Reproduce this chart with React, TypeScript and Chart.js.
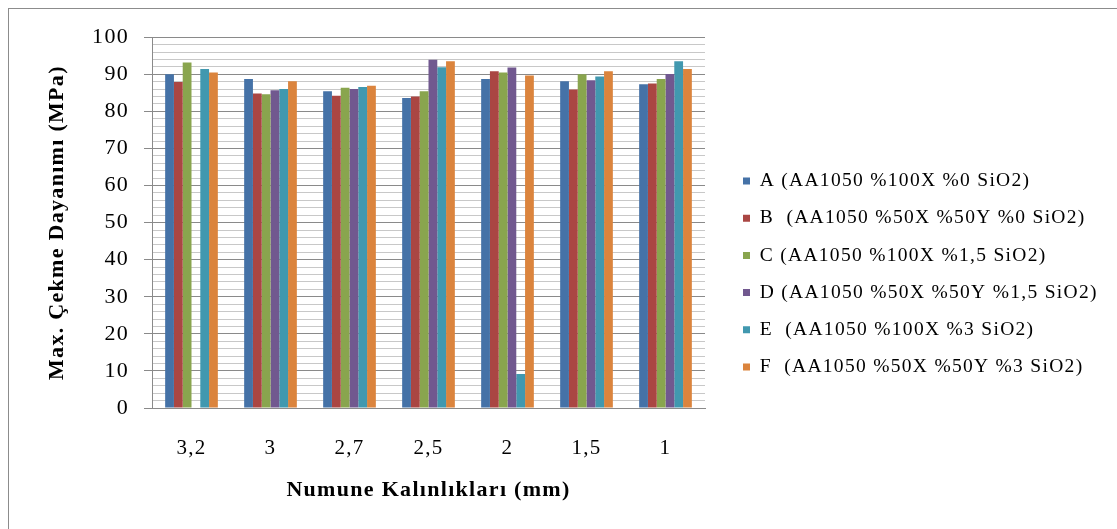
import { useEffect, useRef } from "react";
import { Chart, registerables } from "chart.js";

Chart.register(...registerables);

// Sample thickness groups (mm)
const categories = ["3,2", "3", "2,7", "2,5", "2", "1,5", "1"];

const seriesLabels = [
  "A (AA1050 %100X %0 SiO2)",
  "B  (AA1050 %50X %50Y %0 SiO2)",
  "C (AA1050 %100X %1,5 SiO2)",
  "D (AA1050 %50X %50Y %1,5 SiO2)",
  "E  (AA1050 %100X %3 SiO2)",
  "F  (AA1050 %50X %50Y %3 SiO2)",
];

// Max. tensile strength (MPa) per series, in category order
const seriesA = [90.0, 88.7, 85.4, 83.6, 88.7, 88.1, 87.3];
const seriesB = [87.9, 84.8, 84.2, 84.0, 90.8, 85.9, 87.5];
const seriesC = [93.2, 84.6, 86.4, 85.4, 90.5, 90.0, 88.7];
const seriesD = [null, 85.7, 86.0, 93.9, 91.8, 88.4, 90.1];
const seriesE = [91.4, 86.0, 86.6, 91.9, 9.2, 89.4, 93.5];
const seriesF = [90.5, 88.1, 86.9, 93.5, 89.7, 90.8, 91.4];

const seriesColors = ["#4572A7", "#AA4643", "#89A54E", "#71588F", "#4198AF", "#DB843D"];

const yMin = 0;
const yMax = 100;
const yMinorStep = 2;
const yMajorStep = 10;

const yTitle = "Max. Çekme Dayanımı (MPa)";
const xTitle = "Numune Kalınlıkları (mm)";

const FONT = "'Liberation Serif', 'Times New Roman', serif";
const MAJOR_GRID = "#8a8a8a";
const MINOR_GRID = "#c8c8c8";
const LETTER_SPACING = "1.3px";

const CANVAS_W = 1108;
const CANVAS_H = 520;
const PLOT_LEFT = 143;
const PLOT_RIGHT = 696;
const X_AXIS_HEIGHT = 121;

// Spreads glyphs slightly, like the GDI text of the original sheet
const spacingPlugin = {
  id: "letterSpacing",
  beforeUpdate(chart: any) {
    chart.ctx.letterSpacing = LETTER_SPACING;
  },
  beforeDraw(chart: any) {
    chart.ctx.letterSpacing = LETTER_SPACING;
  },
};

// Keeps the legend column at a fixed width and nudges it into place
const legendPlacement = {
  id: "legendPlacement",
  afterInit(chart: any) {
    const lg = chart.legend;
    if (!lg || lg.__patched) return;
    const fit = lg.fit.bind(lg);
    lg.fit = () => {
      fit();
      lg.width = CANVAS_W - PLOT_RIGHT;
    };
    lg.__patched = true;
  },
  afterLayout(chart: any) {
    const lg = chart.legend;
    if (!lg) return;
    lg.left += 20.3;
    lg.right += 20.3;
    lg.top -= 7.5;
    lg.bottom -= 7.5;
  },
};

export default function App() {
  const canvasRef = useRef<HTMLCanvasElement | null>(null);

  useEffect(() => {
    document.documentElement.style.overflow = "hidden";
    document.body.style.overflow = "hidden";
    const canvas = canvasRef.current;
    if (!canvas) return;

    const seriesValues = [seriesA, seriesB, seriesC, seriesD, seriesE, seriesF];

    const chart = new Chart(canvas, {
      type: "bar",
      data: {
        labels: categories,
        datasets: seriesValues.map((values, i) => ({
          label: seriesLabels[i],
          data: values,
          backgroundColor: seriesColors[i],
          borderWidth: 0,
          categoryPercentage: 0.667,
          barPercentage: 1,
        })),
      },
      options: {
        responsive: false,
        animation: false,
        devicePixelRatio: 1,
        layout: { padding: { top: 25, left: 0, right: 0, bottom: 0 } },
        plugins: {
          tooltip: { enabled: false },
          legend: {
            position: "right",
            align: "center",
            labels: {
              boxWidth: 7,
              boxHeight: 7,
              padding: 17.7,
              color: "#000",
              font: { family: FONT, size: 19.5 },
            },
          },
        },
        scales: {
          x: {
            grid: { display: false, drawTicks: false },
            border: { display: true, color: MAJOR_GRID, width: 1 },
            ticks: {
              color: "#000",
              padding: 27.4,
              font: { family: FONT, size: 21 },
            },
            title: {
              display: true,
              text: xTitle,
              color: "#000",
              padding: { top: 0, bottom: 25.8 },
              font: { family: FONT, size: 22, weight: "bold" },
            },
            afterFit(scale: any) {
              scale.height = X_AXIS_HEIGHT;
            },
          },
          y: {
            min: yMin,
            max: yMax,
            grid: {
              color: (ctx: any) =>
                ctx.tick && ctx.tick.value % yMajorStep === 0 ? MAJOR_GRID : MINOR_GRID,
              tickColor: (ctx: any) =>
                ctx.tick && ctx.tick.value % yMajorStep === 0 ? MAJOR_GRID : "rgba(0,0,0,0)",
              tickLength: 8,
              lineWidth: 1,
            },
            border: { display: true, color: MAJOR_GRID, width: 1 },
            ticks: {
              stepSize: yMinorStep,
              autoSkip: false,
              color: "#000",
              padding: 15,
              font: { family: FONT, size: 22 },
              callback: (v: any) => (Number(v) % yMajorStep === 0 ? String(v) : ""),
            },
            title: {
              display: true,
              text: yTitle,
              color: "#000",
              padding: { top: 35.3, bottom: 0 },
              font: { family: FONT, size: 22, weight: "bold" },
            },
            afterFit(scale: any) {
              scale.width = PLOT_LEFT;
            },
          },
        },
      },
      plugins: [spacingPlugin, legendPlacement],
    });
    chart.update();

    return () => chart.destroy();
  }, []);

  return (
    <div
      style={{
        position: "absolute",
        left: 8,
        top: 8,
        width: CANVAS_W,
        height: CANVAS_H,
        borderLeft: "1px solid #8c8c8c",
        borderTop: "1px solid #8c8c8c",
        background: "#fff",
      }}
    >
      <canvas ref={canvasRef} width={CANVAS_W} height={CANVAS_H} />
    </div>
  );
}
